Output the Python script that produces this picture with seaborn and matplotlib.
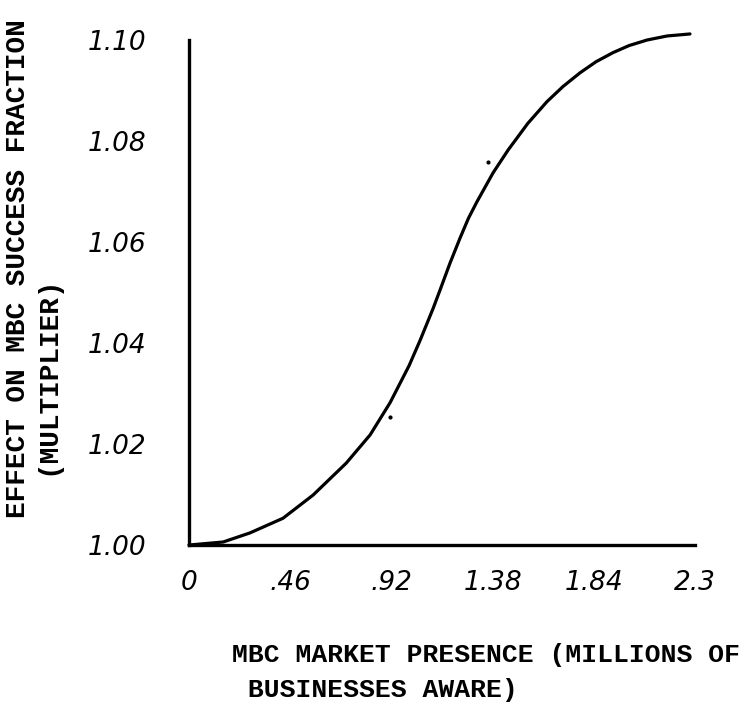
import numpy as np
import matplotlib.pyplot as plt
import seaborn as sns
import pandas as pd

# curve
presence = [0.0, 0.155, 0.277, 0.427, 0.564, 0.714, 0.823, 0.914, 1.000, 1.050,
            1.109, 1.141, 1.186, 1.232, 1.270, 1.309, 1.382, 1.450, 1.540, 1.627,
            1.700, 1.777, 1.850, 1.927, 2.000, 2.082, 2.173, 2.277]
effect = [1.0000, 1.0006, 1.0024, 1.0053, 1.0099, 1.0162, 1.0218, 1.0282, 1.0355, 1.0405,
          1.0468, 1.0505, 1.0558, 1.0608, 1.0647, 1.0680, 1.0737, 1.0782, 1.0835, 1.0878,
          1.0908, 1.0935, 1.0957, 1.0975, 1.0989, 1.1000, 1.1008, 1.1012]

# two stray dots on the scan
dot_x = [0.914, 1.359]
dot_y = [1.0253, 1.0758]

xticks = [0, 0.46, 0.92, 1.38, 1.84, 2.3]
xlabels = ['0', '.46', '.92', '1.38', '1.84', '2.3']
yticks = [1.00, 1.02, 1.04, 1.06, 1.08, 1.10]
ylabels = ['1.00', '1.02', '1.04', '1.06', '1.08', '1.10']

df = pd.DataFrame({'presence': presence, 'effect': effect})

sns.set_style('white')
fig = plt.figure(figsize=(7.51, 7.02), dpi=100)
ax = fig.add_axes([0.2517, 0.2236, 0.6738, 0.7194])

sns.lineplot(data=df, x='presence', y='effect', color='black', linewidth=2.3, ax=ax)
ax.lines[0].set_clip_on(False)
ax.lines[0].set_solid_joinstyle('round')
ax.scatter(dot_x, dot_y, s=4, color='black')

ax.set_xlim(0, 2.3)
ax.set_ylim(1.0, 1.1)
ax.set_xticks(xticks)
ax.set_xticklabels(xlabels, fontsize=19, style='italic')
ax.set_yticks(yticks)
ax.set_yticklabels(ylabels, fontsize=19, style='italic')
ax.tick_params(axis='x', direction='out', length=6, width=2, pad=12,
               color='black', labelcolor='black')
ax.tick_params(axis='y', direction='inout', length=6, width=2.5, pad=28,
               color='black', labelcolor='black')
ax.set_xlabel('')
ax.set_ylabel('')
sns.despine(ax=ax)
for s in ['left', 'bottom']:
    ax.spines[s].set_linewidth(2.4)
    ax.spines[s].set_color('black')

mono = dict(family='Liberation Mono', fontweight='bold', color='black')
fig.text(0.024, 0.617, 'EFFECT ON MBC SUCCESS FRACTION', rotation=90, ha='center', va='center',
         fontsize=20, **mono)
fig.text(0.063, 0.466, '(MULTIPLIER)', rotation=90, ha='center', va='center', fontsize=20, **mono)
fig.text(0.309, 0.067, 'MBC MARKET PRESENCE (MILLIONS OF', ha='left', va='center', fontsize=19, **mono)
fig.text(0.309, 0.017, ' BUSINESSES AWARE)', ha='left', va='center', fontsize=19, **mono)

fig.savefig('out.png', dpi=100)
